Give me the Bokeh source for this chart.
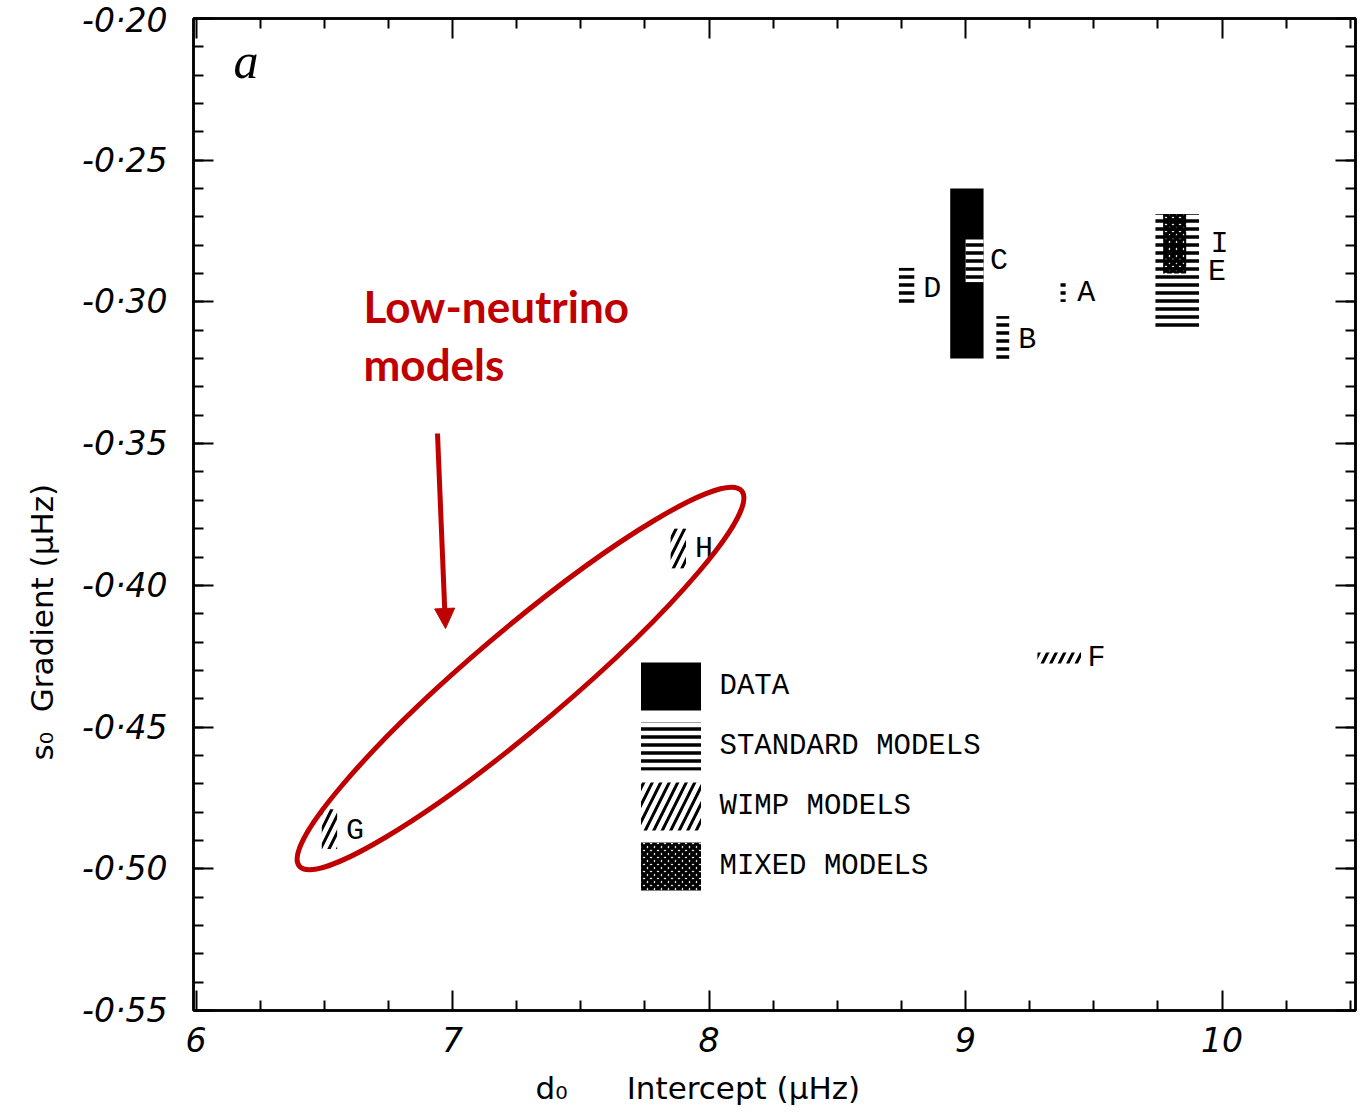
import math
from bokeh.plotting import figure
from bokeh.models import (Range1d, FixedTicker, LinearAxis, Label, Arrow, NormalHead, Title,
                          Legend, LegendItem, ColumnDataSource, CustomJSTickFormatter)
from bokeh.core.properties import value
from bokeh.embed import file_html
from bokeh.resources import INLINE

# ---------------- data ----------------
data_left, data_right = [8.94], [9.07]
data_bottom, data_top = [-0.320], [-0.260]

std_names = ["A", "B", "C", "D", "E"]
std_left = [9.37, 9.12, 9.00, 8.74, 9.74]
std_right = [9.39, 9.17, 9.07, 8.80, 9.91]
std_bottom = [-0.300, -0.321, -0.293, -0.301, -0.310]
std_top = [-0.293, -0.305, -0.278, -0.288, -0.269]

wimp_names = ["F", "G", "H"]
wimp_left = [9.28, 6.49, 7.85]
wimp_right = [9.45, 6.55, 7.91]
wimp_bottom = [-0.4276, -0.493, -0.394]
wimp_top = [-0.4237, -0.479, -0.380]

mixed_names = ["I"]
mixed_left = [9.77]
mixed_right = [9.86]
mixed_bottom = [-0.290]
mixed_top = [-0.269]

label_names = ["A", "B", "C", "D", "E", "F", "G", "H", "I"]
label_x = [9.47, 9.24, 9.13, 8.87, 9.98, 9.51, 6.62, 7.98, 9.99]
label_y = [-0.2967, -0.3136, -0.2854, -0.2953, -0.2896, -0.4258, -0.4865, -0.387, -0.2794]

x_major = [6, 7, 8, 9, 10]
x_minor = [6.25, 6.5, 6.75, 7.25, 7.5, 7.75, 8.25, 8.5, 8.75, 9.25, 9.5, 9.75, 10.25, 10.5]
y_major = [-0.55, -0.50, -0.45, -0.40, -0.35, -0.30, -0.25, -0.20]
y_minor = [round(-0.55 + 0.01 * i, 2) for i in range(36)]

legend_labels = ["DATA", "STANDARD MODELS", "WIMP MODELS", "MIXED MODELS"]

x_title = "d₀\u00a0\u00a0\u00a0\u00a0\u00a0\u00a0Intercept (μHz)"
y_title = "s₀\u00a0\u00a0Gradient (μHz)"

# ---------------- layout helpers ----------------
X0, X1 = 5.99, 10.52
Y0, Y1 = -0.55, -0.20
FL, FR, FT, FB = 193, 1355, 18, 1010
W, H = 1370, 1120


def dx(px):
    return X0 + (px - FL) / (FR - FL) * (X1 - X0)


def dy(py):
    return Y1 - (py - FT) / (FB - FT) * (Y1 - Y0)


RED = "#C00000"

p = figure(width=W, height=H, x_range=Range1d(X0, X1), y_range=Range1d(Y0, Y1),
           output_backend="svg", toolbar_location=None,
           min_border_left=FL, min_border_right=W - FR, min_border_top=FT,
           min_border_bottom=H - FB)
p.xgrid.visible = False
p.ygrid.visible = False
p.outline_line_color = "black"
p.outline_line_width = 2.5
p.background_fill_color = "white"

xt = FixedTicker(ticks=x_major, minor_ticks=x_minor)
yt = FixedTicker(ticks=y_major, minor_ticks=y_minor)


def style_axis(ax, show_labels):
    ax.axis_line_width = 2.5
    ax.axis_line_color = "black"
    ax.major_tick_in = 20
    ax.major_tick_out = 0
    ax.minor_tick_in = 10
    ax.minor_tick_out = 0
    ax.major_tick_line_width = 2
    ax.minor_tick_line_width = 2
    if show_labels:
        ax.major_label_text_font = "DejaVu Sans"
        ax.major_label_text_font_style = "italic"
        ax.major_label_text_font_size = "33px"
        ax.major_label_text_color = "black"
    else:
        ax.formatter = CustomJSTickFormatter(code="return ''")
        ax.major_label_standoff = 0


p.xaxis.ticker = xt
p.yaxis.ticker = yt
p.yaxis.formatter = CustomJSTickFormatter(code="return tick.toFixed(2).replace('.', '\u00b7')")
style_axis(p.xaxis[0], True)
style_axis(p.yaxis[0], True)
p.xaxis.major_label_standoff = 16
p.yaxis.major_label_standoff = 26

ax_r = LinearAxis(ticker=yt)
style_axis(ax_r, False)
p.add_layout(ax_r, "right")
ax_t = LinearAxis(ticker=xt)
style_axis(ax_t, False)
p.add_layout(ax_t, "above")

# axis titles (as side-panel titles so they are not clipped)
p.add_layout(Title(text=y_title, align="left", offset=FB - 760, standoff=39,
                   text_font="DejaVu Sans", text_font_size="31px",
                   text_font_style="normal", text_color="black"), "left")
p.add_layout(Title(text=x_title, align="left", offset=535 - FL, standoff=27,
                   text_font="DejaVu Sans", text_font_size="31px",
                   text_font_style="normal", text_color="black"), "below")

# ---------------- boxes ----------------
r_data = p.quad(left=data_left, right=data_right, bottom=data_bottom, top=data_top,
                fill_color="black", line_color=None)

r_std = p.quad(source=ColumnDataSource(dict(left=std_left, right=std_right,
                                            bottom=std_bottom, top=std_top, name=std_names)),
               left="left", right="right", bottom="bottom", top="top",
               fill_color="white", line_color=None,
               hatch_pattern="-", hatch_color="black", hatch_scale=8, hatch_weight=3.5)

r_mixed = p.quad(source=ColumnDataSource(dict(left=mixed_left, right=mixed_right,
                                              bottom=mixed_bottom, top=mixed_top, name=mixed_names)),
                 left="left", right="right", bottom="bottom", top="top",
                 fill_alpha=0, line_color=None,
                 hatch_pattern="x", hatch_color="black", hatch_scale=7, hatch_weight=3.5)

r_wimp = p.quad(source=ColumnDataSource(dict(left=wimp_left, right=wimp_right,
                                             bottom=wimp_bottom, top=wimp_top, name=wimp_names)),
                left="left", right="right", bottom="bottom", top="top",
                fill_color="white", line_color=None,
                hatch_pattern="/", hatch_color="black", hatch_scale=17, hatch_weight=3)

p.text(x=label_x, y=label_y, text=label_names, text_font=value("Liberation Mono"),
       text_font_size="30px", text_align="center", text_baseline="middle", text_color="black")

legend = Legend(items=[LegendItem(label=legend_labels[0], renderers=[r_data]),
                       LegendItem(label=legend_labels[1], renderers=[r_std]),
                       LegendItem(label=legend_labels[2], renderers=[r_wimp]),
                       LegendItem(label=legend_labels[3], renderers=[r_mixed])],
                location=(632.5 - FL, FB - 896), glyph_width=75, glyph_height=60,
                spacing=0, padding=0, margin=0, label_standoff=12,
                label_text_font="Liberation Mono", label_text_font_size="29px",
                label_text_color="black",
                border_line_alpha=0, background_fill_alpha=0)
p.add_layout(legend)

# ---------------- annotations ----------------
p.ellipse(x=[dx(520)], y=[dy(678)], width=580, height=96, angle=math.radians(40.3),
          width_units="screen", height_units="screen",
          fill_alpha=0, line_color=RED, line_width=5)

p.add_layout(Arrow(end=NormalHead(size=20, fill_color=RED, line_color=RED),
                   x_start=dx(437), y_start=dy(433), x_end=dx(445), y_end=dy(628),
                   line_color=RED, line_width=5))

p.add_layout(Label(x=dx(363), y=dy(305), text="Low-neutrino", text_font="Lato",
                   text_font_style="bold", text_font_size="44px", text_color=RED,
                   text_baseline="middle", text_align="left"))
p.add_layout(Label(x=dx(363), y=dy(363), text="models", text_font="Lato",
                   text_font_style="bold", text_font_size="44px", text_color=RED,
                   text_baseline="middle", text_align="left"))

p.add_layout(Label(x=dx(233), y=dy(60), text="a", text_font="Liberation Serif",
                   text_font_style="italic", text_font_size="50px", text_color="black",
                   text_baseline="middle", text_align="left"))

open("out.html", "w").write(file_html(p, INLINE))
